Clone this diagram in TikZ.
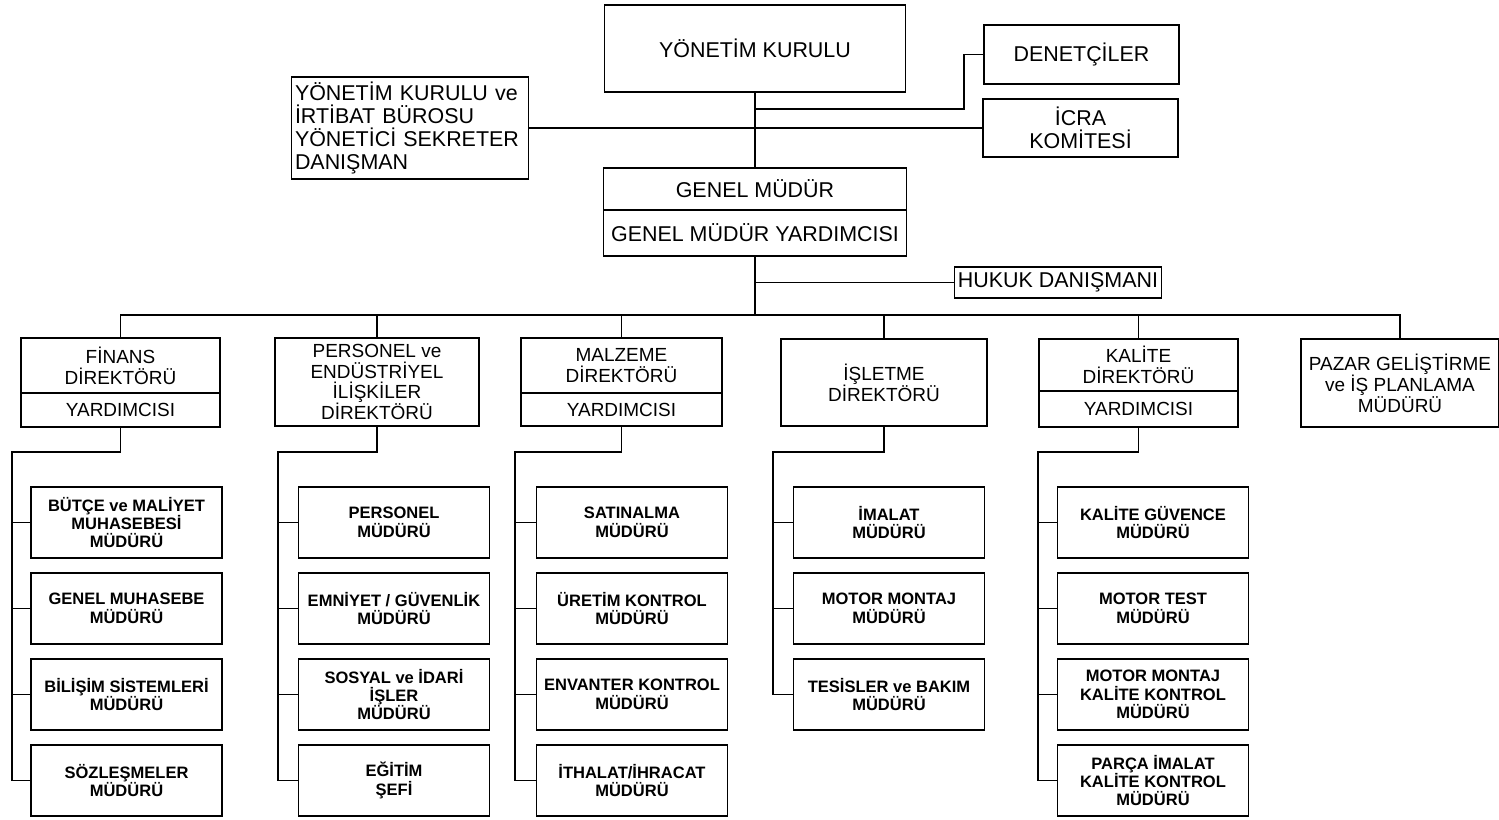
\documentclass[tikz,border=0pt]{standalone}
\usepackage{fontspec}
\setmainfont{Liberation Sans}
\usetikzlibrary{positioning}

\tikzset{
  wh/.style 2 args={minimum width=#1*0.02cm,minimum height=#2*0.02cm},
  topbox/.style={draw,line width=0.9pt,inner sep=2pt,outer sep=0pt,
                 font=\fontsize{12.2}{13}\selectfont,align=center},
  dirbox/.style={draw,line width=0.9pt,inner sep=1pt,outer sep=0pt,
                 font=\fontsize{10.8}{11.9}\selectfont,align=center},
  subbox/.style={draw,line width=0.9pt,inner sep=1pt,outer sep=0pt,
                 wh={191}{71},font=\bfseries\fontsize{9.4}{10.5}\selectfont,
                 align=center},
  link/.style={line width=0.9pt}
}

\begin{document}
\begin{tikzpicture}[x=0.02cm,y=-0.02cm,node distance=0.3cm]
  \useasboundingbox (0,0) rectangle (1499,819);

  % top management
  \node[topbox,wh={301}{87}] (yk) at (755,48.5) {YÖNETİM KURULU};
  \node[topbox,wh={195}{59}] (den) at (1081.5,54.5) {DENETÇİLER};
  \node[topbox,wh={195}{58}] (icra) at (1080.5,128) {İCRA\\KOMİTESİ};
  \node[topbox,wh={236}{102},align=left,text width=230*0.02cm,
        font=\fontsize{12.2}{13.2}\selectfont] (irt) at (410,128)
        {YÖNETİM KURULU ve\\İRTİBAT BÜROSU\\YÖNETİCİ SEKRETER\\DANIŞMAN};
  \node[topbox,wh={303}{42}] (gm) at (755,189) {GENEL MÜDÜR};
  \node[topbox,wh={303}{46},below=0pt of gm] (gmy) {GENEL MÜDÜR YARDIMCISI};
  \node[topbox,wh={206}{31}] (huk) at (1058,282.5) {HUKUK DANIŞMANI};

  \draw[link] (yk.south) -- (gm.north);
  \draw[link] (irt.east) -- (icra.west);
  \draw[link] (yk.south |- 0,109) -- ++(209,0) |- (den.west);

  % directors
  \node[dirbox,wh={199}{55}] (fin) at (120.5,365.5) {FİNANS\\DİREKTÖRÜ};
  \node[dirbox,wh={199}{34},below=0pt of fin] (finy) {YARDIMCISI};
  \node[dirbox,wh={204}{88}] (per) at (377,382)
        {PERSONEL ve\\ENDÜSTRİYEL\\İLİŞKİLER\\DİREKTÖRÜ};
  \node[dirbox,wh={201}{55}] (malz) at (621.5,365.5) {MALZEME\\DİREKTÖRÜ};
  \node[dirbox,wh={201}{33},below=0pt of malz] (malzy) {YARDIMCISI};
  \node[dirbox,wh={206}{87}] (isl) at (884,382.5) {İŞLETME\\DİREKTÖRÜ};
  \node[dirbox,wh={199}{52}] (kal) at (1138.5,365) {KALİTE\\DİREKTÖRÜ};
  \node[dirbox,wh={199}{36},below=0pt of kal] (kaly) {YARDIMCISI};
  \node[dirbox,wh={198}{88}] (paz) at (1400,383)
        {PAZAR GELİŞTİRME\\ve İŞ PLANLAMA\\MÜDÜRÜ};

  \draw[link] (gmy.south) -- ++(0,59) coordinate (bus);
  \draw[link] (gmy.south |- huk.west) -- (huk.west);
  \draw[link] (fin.north) |- (bus) -| (paz.north);
  \foreach \d in {per,malz,isl,kal}{
    \draw[link] (\d.north) -- (\d.north |- bus);
  }

  % finans
  \node[subbox] (fin1) at (126.5,522.5) {BÜTÇE ve MALİYET\\MUHASEBESİ\\MÜDÜRÜ};
  \node[subbox,below=of fin1] (fin2) {GENEL MUHASEBE\\MÜDÜRÜ};
  \node[subbox,below=of fin2] (fin3) {BİLİŞİM SİSTEMLERİ\\MÜDÜRÜ};
  \node[subbox,below=of fin3] (fin4) {SÖZLEŞMELER\\MÜDÜRÜ};

  % personel
  \node[subbox] (per1) at (394,522.5) {PERSONEL\\MÜDÜRÜ};
  \node[subbox,below=of per1] (per2) {EMNİYET / GÜVENLİK\\MÜDÜRÜ};
  \node[subbox,below=of per2] (per3) {SOSYAL ve İDARİ\\İŞLER\\MÜDÜRÜ};
  \node[subbox,below=of per3] (per4) {EĞİTİM\\ŞEFİ};

  % malzeme
  \node[subbox] (malz1) at (632,522.5) {SATINALMA\\MÜDÜRÜ};
  \node[subbox,below=of malz1] (malz2) {ÜRETİM KONTROL\\MÜDÜRÜ};
  \node[subbox,below=of malz2] (malz3) {ENVANTER KONTROL\\MÜDÜRÜ};
  \node[subbox,below=of malz3] (malz4) {İTHALAT/İHRACAT\\MÜDÜRÜ};

  % isletme
  \node[subbox] (isl1) at (889,522.5) {İMALAT\\MÜDÜRÜ};
  \node[subbox,below=of isl1] (isl2) {MOTOR MONTAJ\\MÜDÜRÜ};
  \node[subbox,below=of isl2] (isl3) {TESİSLER ve BAKIM\\MÜDÜRÜ};

  % kalite
  \node[subbox] (kal1) at (1153,522.5) {KALİTE GÜVENCE\\MÜDÜRÜ};
  \node[subbox,below=of kal1] (kal2) {MOTOR TEST\\MÜDÜRÜ};
  \node[subbox,below=of kal2] (kal3) {MOTOR MONTAJ\\KALİTE KONTROL\\MÜDÜRÜ};
  \node[subbox,below=of kal3] (kal4) {PARÇA İMALAT\\KALİTE KONTROL\\MÜDÜRÜ};

  \coordinate (vfin) at (12,452);
  \coordinate (vper) at (278,452);
  \coordinate (vmalz) at (515,452);
  \coordinate (visl) at (773,452);
  \coordinate (vkal) at (1038,452);

  \foreach \hd/\c/\n in {finy/fin/4,per/per/4,malzy/malz/4,isl/isl/3,kaly/kal/4}{
    \draw[link] (\hd.south) |- (v\c) |- (\c\n.west);
    \foreach \i in {1,...,\n}{
      \draw[link] (v\c |- \c\i.west) -- (\c\i.west);
    }
  }
\end{tikzpicture}
\end{document}
